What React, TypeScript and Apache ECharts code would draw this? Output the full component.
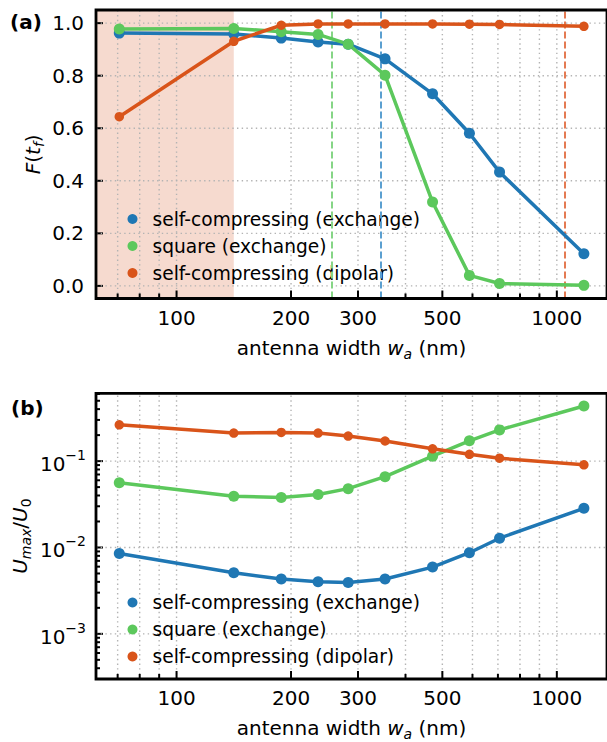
import React, { useEffect, useRef } from 'react';
import * as echarts from 'echarts';

const FONT = 'DejaVu Sans';

// antenna widths (nm)
const widths = [70.7, 141.4, 188.5, 235.6, 282.7, 353.4, 471.2, 589.0, 706.9, 1178.1];

// panel (a): fidelity F(t_f)
const fSelfExchange = [0.962, 0.959, 0.943, 0.928, 0.920, 0.864, 0.731, 0.581, 0.433, 0.122];
const fSquareExchange = [0.978, 0.980, 0.967, 0.957, 0.920, 0.802, 0.319, 0.040, 0.009, 0.002];
const fSelfDipolar = [0.644, 0.931, 0.992, 0.997, 0.997, 0.997, 0.997, 0.996, 0.995, 0.988];

// panel (b): U_max / U_0
const uSelfExchange = [0.0085, 0.0051, 0.00432, 0.00402, 0.00394, 0.00432, 0.00593, 0.0087, 0.0128, 0.0284];
const uSquareExchange = [0.0563, 0.0393, 0.0379, 0.041, 0.048, 0.066, 0.114, 0.172, 0.230, 0.435];
const uSelfDipolar = [0.263, 0.211, 0.215, 0.211, 0.195, 0.171, 0.139, 0.120, 0.108, 0.0907];

const seriesNames = ['self-compressing (exchange)', 'square (exchange)', 'self-compressing (dipolar)'];

// threshold widths (dashed lines) and shaded region end
const thresholdSquare = 256.7;
const thresholdSelfExchange = 344;
const thresholdSelfDipolar = 1049;
const shadeEnd = 141.4;

// ticks
const xMajorTicks = [100, 200, 300, 500, 1000];
const xMajorLabels = ['100', '200', '300', '500', '1000'];
const xMinorTicks = [70, 80, 90, 400, 600, 700, 800, 900];
const fTicks = [0, 0.2, 0.4, 0.6, 0.8, 1.0];
const fTickLabels = ['0.0', '0.2', '0.4', '0.6', '0.8', '1.0'];
const uMajorTicks = [1e-3, 1e-2, 1e-1];
const uTickLabels = ['{b|10}{s|\u22123}', '{b|10}{s|\u22122}', '{b|10}{s|\u22121}'];
const uMinorTicks = [4e-4, 5e-4, 6e-4, 7e-4, 8e-4, 9e-4, 2e-3, 3e-3, 4e-3, 5e-3, 6e-3, 7e-3, 8e-3, 9e-3,
  2e-2, 3e-2, 4e-2, 5e-2, 6e-2, 7e-2, 8e-2, 9e-2, 2e-1, 3e-1, 4e-1, 5e-1, 6e-1];

// axis limits
const X_MIN = 61.4, X_MAX = 1355;
const F_MIN = -0.048, F_MAX = 1.05;
const U_MIN = 3e-4, U_MAX = 0.61;

const BLUE = '#1f77b4';
const GREEN = '#5cc85c';
const ORANGE = '#d9541a';
const GRIDC = '#b3b3b3';

const labelRich = {
  t: { fontSize: 20, fontFamily: FONT, color: '#000', lineHeight: 26 },
  b: { fontSize: 20, fontFamily: FONT, color: '#000', lineHeight: 26, verticalAlign: 'bottom' },
  s: { fontSize: 14, fontFamily: FONT, color: '#000', lineHeight: 14, verticalAlign: 'top' },
  bold: { fontSize: 20, fontFamily: FONT, color: '#000', lineHeight: 26, fontWeight: 'bold' },
};

const nameRich = {
  r: { fontSize: 20, fontFamily: FONT, color: '#000', lineHeight: 26 },
  i: { fontSize: 20, fontFamily: FONT, color: '#000', lineHeight: 26, fontStyle: 'italic' },
  si: { fontSize: 14, fontFamily: FONT, color: '#000', lineHeight: 14, fontStyle: 'italic', verticalAlign: 'bottom' },
  sr: { fontSize: 14, fontFamily: FONT, color: '#000', lineHeight: 14, verticalAlign: 'bottom' },
};

function xDecor(g: number, yMin: number, yMax: number) {
  const data = [
    ...xMajorTicks.map((v, k) => [v, yMin, 1, k]),
    ...xMinorTicks.map((v) => [v, yMin, 0, -1]),
  ];
  return {
    type: 'custom',
    xAxisIndex: g,
    yAxisIndex: g,
    clip: false,
    silent: true,
    z: 2,
    data,
    encode: { x: 0, y: 1 },
    renderItem: (_p: any, api: any) => {
      const v = api.value(0);
      const major = api.value(2) === 1;
      const k = api.value(3);
      const b = api.coord([v, yMin]);
      const t = api.coord([v, yMax]);
      const children: any[] = [
        { type: 'line', shape: { x1: b[0], y1: b[1], x2: t[0], y2: t[1] }, style: { stroke: GRIDC, lineWidth: 1.4, lineDash: [1.4, 3.3] } },
        { type: 'line', shape: { x1: b[0], y1: b[1], x2: b[0], y2: b[1] - (major ? 8 : 5) }, style: { stroke: '#000', lineWidth: 2 } },
      ];
      if (major) {
        children.push({ type: 'text', x: b[0], y: b[1] + 19, style: { text: `{t|${xMajorLabels[k]}}`, rich: labelRich, fill: '#000', align: 'center', verticalAlign: 'middle' } });
      }
      return { type: 'group', children };
    },
  };
}

function yDecor(g: number, majors: number[], labels: string[], minors: number[], pad: number) {
  const data = [
    ...majors.map((v, k) => [X_MIN, v, 1, k]),
    ...minors.map((v) => [X_MIN, v, 0, -1]),
  ];
  return {
    type: 'custom',
    xAxisIndex: g,
    yAxisIndex: g,
    clip: false,
    silent: true,
    z: 2,
    data,
    encode: { x: 0, y: 1 },
    renderItem: (_p: any, api: any) => {
      const v = api.value(1);
      const major = api.value(2) === 1;
      const k = api.value(3);
      const l = api.coord([X_MIN, v]);
      const r = api.coord([X_MAX, v]);
      const children: any[] = [
        { type: 'line', shape: { x1: l[0], y1: l[1], x2: l[0] + (major ? 7 : 4), y2: l[1] }, style: { stroke: '#000', lineWidth: 2 } },
      ];
      if (major) {
        children.push({ type: 'line', shape: { x1: l[0], y1: l[1], x2: r[0], y2: r[1] }, style: { stroke: GRIDC, lineWidth: 1.4, lineDash: [1.4, 3.3] } });
        const txt = labels[k].startsWith('{') ? labels[k] : `{t|${labels[k]}}`;
        children.push({ type: 'text', x: l[0] - pad, y: l[1], style: { text: txt, rich: labelRich, fill: '#000', align: 'right', verticalAlign: 'middle' } });
      }
      return { type: 'group', children };
    },
  };
}

function dataSeries(g: number, name: string, ys: number[], color: string, size: number) {
  return {
    type: 'line',
    name,
    xAxisIndex: g,
    yAxisIndex: g,
    data: widths.map((w, i) => [w, ys[i]]),
    symbol: 'circle',
    symbolSize: size,
    z: 5,
    itemStyle: { color },
    lineStyle: { color, width: 3.5 },
    emphasis: { disabled: true },
  };
}

export default function App() {
  const ref = useRef<HTMLDivElement>(null);
  useEffect(() => {
    if (!ref.current) return;
    const chart = echarts.init(ref.current, undefined, { renderer: 'svg' });
    const gridBase = { left: 96, width: 513, show: true, borderColor: '#000', borderWidth: 2.8, backgroundColor: 'transparent', z: 10 };
    const legendBase = {
      data: seriesNames,
      left: 122.5,
      orient: 'vertical',
      icon: 'circle',
      itemWidth: 30,
      itemHeight: 10,
      itemGap: 7,
      selectedMode: false,
      textStyle: { fontSize: 18.6, fontFamily: FONT, color: '#000', lineHeight: 20 },
    };
    const xBase = {
      type: 'log',
      logBase: 10,
      min: X_MIN,
      max: X_MAX,
      axisLine: { show: false },
      axisTick: { show: false },
      axisLabel: { show: false },
      splitLine: { show: false },
      nameLocation: 'middle',
      nameGap: 36,
      name: '{r|antenna width }{i|w}{si|a}{r| (nm)}',
      nameTextStyle: { rich: nameRich },
    };
    const option: any = {
      animation: false,
      backgroundColor: '#fff',
      textStyle: { fontFamily: FONT },
      grid: [
        { ...gridBase, top: 10, height: 288.5 },
        { ...gridBase, top: 393.3, height: 289 },
      ],
      legend: [
        { ...legendBase, top: 204 },
        { ...legendBase, top: 587.5 },
      ],
      xAxis: [
        { ...xBase, gridIndex: 0 },
        { ...xBase, gridIndex: 1 },
      ],
      yAxis: [
        {
          type: 'value', gridIndex: 0, min: F_MIN, max: F_MAX,
          axisLine: { show: false }, axisTick: { show: false }, axisLabel: { show: false }, splitLine: { show: false },
          nameLocation: 'middle', nameGap: 50,
          name: '{i|F}{r|(}{i|t}{si|f}{r|)}',
          nameTextStyle: { rich: nameRich },
        },
        {
          type: 'log', logBase: 10, gridIndex: 1, min: U_MIN, max: U_MAX,
          axisLine: { show: false }, axisTick: { show: false }, axisLabel: { show: false }, splitLine: { show: false },
          nameLocation: 'middle', nameGap: 63,
          name: '{i|U}{si|max}{r|/}{i|U}{sr|0}',
          nameTextStyle: { rich: nameRich },
        },
      ],
      graphic: [
        { type: 'text', x: 10, y: 22, style: { text: '{bold|(a)}', rich: labelRich, fill: '#000', verticalAlign: 'middle' } },
        { type: 'text', x: 11, y: 407.5, style: { text: '{bold|(b)}', rich: labelRich, fill: '#000', verticalAlign: 'middle' } },
      ],
      series: [
        {
          type: 'line',
          name: 'regions',
          xAxisIndex: 0,
          yAxisIndex: 0,
          data: [],
          z: 1,
          silent: true,
          markArea: {
            silent: true,
            itemStyle: { color: '#f6dacf' },
            data: [[{ xAxis: X_MIN }, { xAxis: shadeEnd }]],
          },
          markLine: {
            silent: true,
            symbol: ['none', 'none'],
            label: { show: false },
            data: [
              { xAxis: thresholdSquare, lineStyle: { color: '#86d586', type: [7, 3], width: 2 } },
              { xAxis: thresholdSelfExchange, lineStyle: { color: '#5b9fd0', type: [7, 3], width: 2 } },
              { xAxis: thresholdSelfDipolar, lineStyle: { color: '#e47a52', type: [7, 3], width: 2 } },
            ],
          },
        },
        xDecor(0, F_MIN, F_MAX),
        yDecor(0, fTicks, fTickLabels, [], 12),
        xDecor(1, U_MIN, U_MAX),
        yDecor(1, uMajorTicks, uTickLabels, uMinorTicks, 10),
        dataSeries(0, seriesNames[0], fSelfExchange, BLUE, 11),
        dataSeries(0, seriesNames[1], fSquareExchange, GREEN, 11),
        dataSeries(0, seriesNames[2], fSelfDipolar, ORANGE, 9.5),
        dataSeries(1, seriesNames[0], uSelfExchange, BLUE, 11),
        dataSeries(1, seriesNames[1], uSquareExchange, GREEN, 11),
        dataSeries(1, seriesNames[2], uSelfDipolar, ORANGE, 9.5),
      ],
    };
    chart.setOption(option);
    return () => chart.dispose();
  }, []);
  return <div ref={ref} style={{ width: 607, height: 742, position: 'absolute', left: 0, top: 0 }} />;
}
